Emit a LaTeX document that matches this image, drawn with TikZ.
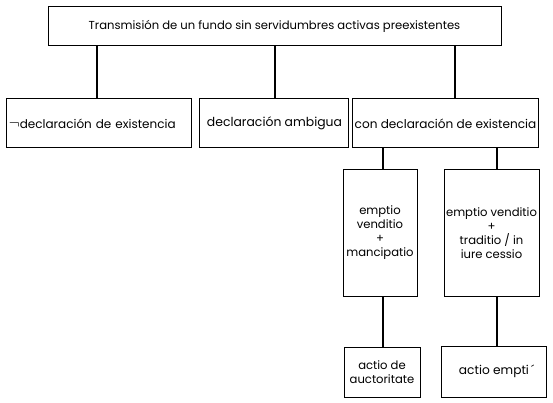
\documentclass[tikz,border=0pt]{standalone}
\usepackage{fontspec}
\setmainfont{Poppins}
\newcommand{\fs}[1]{\fontsize{#1}{14}\selectfont}
\begin{document}
\begin{tikzpicture}[x=1pt,y=-1pt,
  box/.style={draw=black,line width=1pt,inner sep=0pt,align=center,font=\fs{11.6}},
  conn/.style={draw=black,line width=1.4pt}]
\useasboundingbox[fill=white] (0,0) rectangle (553,403);
\node[box,minimum width=453pt,minimum height=39pt] (top) at (274.5,26.5) {Transmisión de un fundo sin servidumbres activas preexistentes};
\node[box,minimum width=185pt,minimum height=49pt,text width=181pt,align=left,font=\fs{12}] (b1) at (98.5,123.5) {\hspace*{1pt}\scalebox{1.35}{$\neg$}declaración de existencia};
\node[box,minimum width=149pt,minimum height=49pt,font=\fs{12.4}] (b2) at (273.5,123.5) {\hspace*{2pt}declaración ambigua};
\node[box,minimum width=186pt,minimum height=49pt,font=\fs{12.1}] (b3) at (445.5,123.5) {con declaración de existencia};
\node[box,minimum width=74pt,minimum height=126pt] (a) at (380,233) {emptio\\venditio\\+\\mancipatio};
\node[box,minimum width=95pt,minimum height=126pt] (b) at (491.5,233) {emptio venditio\\+\\traditio / in\\iure cessio};
\node[box,minimum width=76pt,minimum height=50pt] (c) at (382,372) {actio de\\auctoritate};
\node[box,minimum width=105pt,minimum height=51pt,font=\fs{12.2}] (d) at (493.5,371.5) {\hspace*{6pt}actio empti\,´};
\draw[conn] ([xshift=-1.5pt]b1.north) -- ([xshift=-1.5pt]b1.north |- top.south);
\draw[conn] ([xshift=1.5pt]b2.north) -- ([xshift=1.5pt]b2.north |- top.south);
\draw[conn] ([xshift=9.5pt]b3.north) -- ([xshift=9.5pt]b3.north |- top.south);
\draw[conn] ([xshift=3pt]a.north) -- ([xshift=3pt]a.north |- b3.south);
\draw[conn] ([xshift=5.5pt]b.north) -- ([xshift=5.5pt]b.north |- b3.south);
\draw[conn] ([xshift=3pt]a.south) -- ([xshift=3pt]a.south |- c.north);
\draw[conn] ([xshift=5.5pt]b.south) -- ([xshift=5.5pt]b.south |- d.north);
\end{tikzpicture}
\end{document}
